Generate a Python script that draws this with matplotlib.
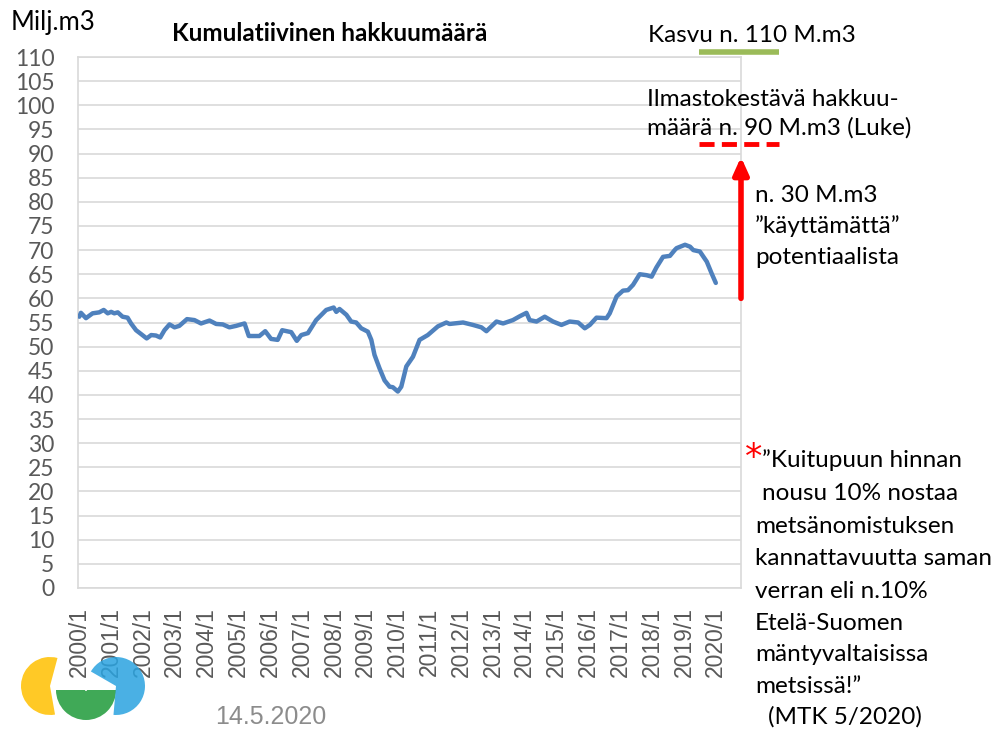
import numpy as np
import matplotlib
matplotlib.use('Agg')
import matplotlib.pyplot as plt
from matplotlib.patches import Wedge

# Kuukausi-indeksi (0 = 2000/1) ja kumulatiivinen hakkuumäärä (Milj. m3)
kuukausi = [0, 0.6, 2.5, 5.0, 7.5, 9.2, 10.7, 12.0, 13.2, 14.5, 16.3, 18.2, 19.5, 21.4,
            23.3, 25.4, 27.1, 28.9, 30.5, 32.1, 34.0, 35.9, 37.7, 40.6, 43.4, 45.9, 49.1,
            51.6, 54.1, 56.6, 59.1, 61.0, 62.3, 63.9, 67.9, 70.1, 72.3, 74.8, 76.5, 79.9,
            82.0, 83.7, 86.2, 89.3, 93.1, 95.9, 96.9, 98.1, 100.7, 102.5, 104.4, 106.3,
            108.8, 110.1, 111.3, 113.2, 115.1, 117.0, 118.2, 120.1, 121.4, 123.3, 125.8,
            128.3, 131.4, 135.2, 138.4, 139.6, 144.7, 148.4, 151.6, 153.5, 157.3, 159.8,
            163.5, 166.1, 168.6, 169.8, 172.4, 175.5, 178.6, 181.8, 184.9, 188.1, 190.6,
            192.5, 195.0, 198.8, 200.0, 202.6, 205.0, 206.9, 208.8, 211.3, 213.9, 215.8,
            217.6, 220.1, 222.7, 224.5, 225.2, 228.4, 230.3, 231.5, 234.0, 236.6, 238.4,
            240.0]
hakkuu = [56.2, 57.0, 55.9, 56.9, 57.1, 57.6, 56.9, 57.2, 56.9, 57.1, 56.2, 56.0, 54.8, 53.4,
          52.6, 51.7, 52.4, 52.3, 51.9, 53.4, 54.6, 54.0, 54.3, 55.7, 55.5, 54.8, 55.4,
          54.7, 54.6, 54.0, 54.3, 54.6, 54.8, 52.2, 52.2, 53.2, 51.6, 51.4, 53.4, 53.0,
          51.2, 52.4, 52.8, 55.5, 57.6, 58.1, 57.2, 57.8, 56.6, 55.2, 55.0, 53.8,
          53.1, 51.4, 48.3, 45.5, 43.0, 41.7, 41.6, 40.7, 41.7, 45.9, 47.9,
          51.4, 52.4, 54.2, 55.0, 54.7, 55.0, 54.5, 54.0, 53.2, 55.2, 54.8,
          55.5, 56.3, 57.0, 55.5, 55.2, 56.2, 55.2, 54.5, 55.2, 55.0, 53.8,
          54.5, 56.0, 55.9, 56.9, 60.4, 61.6, 61.7, 62.8, 65.0, 64.8, 64.5,
          66.4, 68.6, 68.8, 70.0, 70.4, 71.1, 70.7, 70.0, 69.7, 67.6, 65.2,
          63.2]

vuodet = list(range(2000, 2021))
x_tikit = [12 * (v - 2000) for v in vuodet]
x_nimet = [f'{v}/1' for v in vuodet]
y_tikit = list(range(0, 111, 5))

harmaa = '#595959'
fontti = ['Lato', 'DejaVu Sans']
koko = 17.5


def px(x, y):
    # kuvapikselit -> kuvan koordinaatit
    return x / 1000, 1 - y / 731


fig = plt.figure(figsize=(10, 7.31), dpi=100)
ax = fig.add_axes([0.078, 1 - 588 / 731, 0.663, 531 / 731])

ax.plot(kuukausi, hakkuu, color='#4f81bd', linewidth=3.2, solid_capstyle='round',
        solid_joinstyle='round', zorder=3)

ax.set_xlim(-0.5, 249.5)
ax.set_ylim(0, 110)
ax.set_yticks(y_tikit)
ax.set_yticklabels([str(v) for v in y_tikit], fontsize=16.5, color=harmaa, family=fontti)
ax.set_xticks(x_tikit)
ax.set_xticklabels(x_nimet, rotation=90, fontsize=16.5, color=harmaa,
                   family='Liberation Sans', va='top', ha='center')
ax.tick_params(axis='y', length=0, pad=17)
ax.tick_params(axis='x', length=0, pad=14)
ax.grid(axis='y', color='#d9d9d9', linewidth=1.2)
for s in ax.spines.values():
    s.set_color('#d9d9d9')
    s.set_linewidth(1.2)

# Otsikot
fig.text(*px(11, 30), 'Milj.m3', fontsize=18.5, family=fontti, va='baseline')
fig.text(*px(330, 41), 'Kumulatiivinen hakkuumäärä', fontsize=17.5, fontweight='bold',
         family=fontti, ha='center', va='baseline')

# Kasvu ja ilmastokestävä hakkuumäärä
fig.text(*px(648, 42), 'Kasvu n. 110 M.m3', fontsize=koko, family=fontti, va='baseline')
fig.text(*px(647, 106), 'Ilmastokestävä hakkuu-', fontsize=koko, family=fontti, va='baseline')
fig.text(*px(647, 135), 'määrä n. 90 M.m3 (Luke)', fontsize=koko, family=fontti, va='baseline')

ax.plot([0.937, 1.057], [111, 111], transform=ax.get_yaxis_transform(),
        color='#9bbb59', linewidth=4, clip_on=False, solid_capstyle='butt')
ax.plot([0.937, 1.057], [92, 92], transform=ax.get_yaxis_transform(),
        color='#ff0000', linewidth=3.5, clip_on=False, linestyle=(0, (3.1, 1.5)),
        dash_capstyle='butt')

# Nuoli 60 -> 89
ax.annotate('', xy=(1.0, 89.3), xytext=(1.0, 60),
            xycoords=ax.get_yaxis_transform(), textcoords=ax.get_yaxis_transform(),
            arrowprops=dict(arrowstyle='-|>,head_width=0.45,head_length=1.0',
                            color='#ff0000', linewidth=4, shrinkA=0, shrinkB=0),
            annotation_clip=False)

for y, t in [(202, 'n. 30 M.m3'), (233, '”käyttämättä”'), (264, 'potentiaalista')]:
    fig.text(*px(755, y), t, fontsize=koko, family=fontti, va='baseline')

# Lainaus
fig.text(*px(745, 468), '*', fontsize=25, color='#ff0000', family='DejaVu Sans',
         va='baseline')
lainaus = [(762, 467, '”Kuitupuun hinnan'),
           (762, 500, 'nousu 10% nostaa'),
           (755, 533, 'metsänomistuksen'),
           (755, 565, 'kannattavuutta saman'),
           (755, 598, 'verran eli n.10%'),
           (755, 630, 'Etelä-Suomen'),
           (755, 661, 'mäntyvaltaisissa'),
           (755, 693, 'metsissä!”'),
           (768, 724, '(MTK 5/2020)')]
for x, y, t in lainaus:
    fig.text(*px(x, y), t, fontsize=koko, family=fontti, va='baseline')

# Päiväys
fig.text(*px(215, 724), '14.5.2020', fontsize=18, color='#8c8c8c',
         family='Liberation Sans', va='baseline')

# Logo (yksinkertaistettu)
for cx, cy, r, a1, a2, col in [(50, 686, 29, 75, 280, '#ffc000'),
                               (86, 690, 30, 180, 360, '#1e9a3a'),
                               (116, 686, 29, -95, 150, '#2aa3e0')]:
    fig.patches.append(Wedge((cx, 731 - cy), r, a1, a2, width=29, facecolor=col,
                             edgecolor='none', alpha=0.85,
                             transform=None, figure=fig))

fig.savefig('out.png', dpi=100)
